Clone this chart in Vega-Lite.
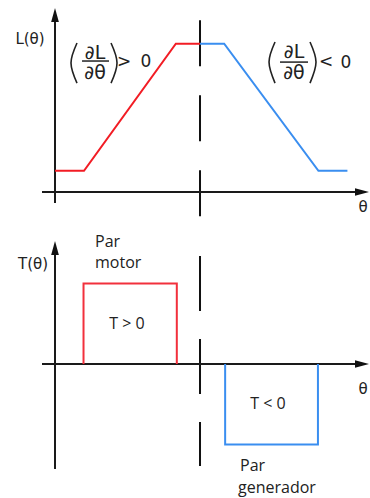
{
  "$schema": "https://vega.github.io/schema/vega-lite/v6.json",
  "padding": 0,
  "spacing": 0,
  "background": "white",
  "config": {"view": {"stroke": null}},
  "resolve": {"scale": {"x": "independent", "y": "independent", "color": "independent", "shape": "independent"}},
  "datasets": {
    "dash_top": [{"theta": 30, "v": 8.11, "v2": -1.7}],
    "axes_top": [
      {"theta": 0, "theta2": 0, "v": -0.52, "v2": 8.35},
      {"theta": -2.69, "theta2": 63.52, "v": 0, "v2": 0}
    ],
    "arrows_top": [
      {"theta": 0, "v": 8.35, "dir": "up"},
      {"theta": 63.52, "v": 0, "dir": "right"}
    ],
    "inductance": [
      {"theta": 0, "v": 1, "side": "motor"},
      {"theta": 6, "v": 1, "side": "motor"},
      {"theta": 25, "v": 7, "side": "motor"},
      {"theta": 30, "v": 7, "side": "motor"},
      {"theta": 30, "v": 7, "side": "generador"},
      {"theta": 35, "v": 7, "side": "generador"},
      {"theta": 54.5, "v": 1, "side": "generador"},
      {"theta": 60.5, "v": 1, "side": "generador"}
    ],
    "frac_bars": [
      {"theta": 5.59, "theta2": 11.17, "v": 6.18},
      {"theta": 46.55, "theta2": 52.35, "v": 6.13}
    ],
    "parens": [
      {"g": "a", "ord": 1, "theta": 4.55, "v": 7.03},
      {"g": "a", "ord": 2, "theta": 3.31, "v": 6.09},
      {"g": "a", "ord": 3, "theta": 4.55, "v": 5.14},
      {"g": "b", "ord": 1, "theta": 11.59, "v": 7.03},
      {"g": "b", "ord": 2, "theta": 12.83, "v": 6.09},
      {"g": "b", "ord": 3, "theta": 11.59, "v": 5.14},
      {"g": "c", "ord": 1, "theta": 45.52, "v": 7.08},
      {"g": "c", "ord": 2, "theta": 44.28, "v": 6.13},
      {"g": "c", "ord": 3, "theta": 45.52, "v": 5.14},
      {"g": "d", "ord": 1, "theta": 52.76, "v": 7.08},
      {"g": "d", "ord": 2, "theta": 54.0, "v": 6.13},
      {"g": "d", "ord": 3, "theta": 52.76, "v": 5.14}
    ],
    "labels_top": [
      {"theta": -5.17, "v": 7.22, "label": "L(θ)"},
      {"theta": 63.73, "v": -0.71, "label": "θ"}
    ],
    "frac_terms": [
      {"theta": 8.28, "v": 6.56, "label": "∂L"},
      {"theta": 8.28, "v": 5.62, "label": "∂θ"},
      {"theta": 49.45, "v": 6.61, "label": "∂L"},
      {"theta": 49.45, "v": 5.62, "label": "∂θ"}
    ],
    "relations": [
      {"theta": 14.28, "v": 6.13, "label": ">"},
      {"theta": 18.83, "v": 6.13, "label": "0"},
      {"theta": 56.07, "v": 6.13, "label": "<"},
      {"theta": 60.21, "v": 6.09, "label": "0"}
    ],
    "dash_bottom": [{"theta": 30, "v": 1.342, "v2": -1.267}],
    "axes_bottom": [
      {"theta": 0, "theta2": 0, "v": -1.304, "v2": 1.441},
      {"theta": -2.69, "theta2": 63.52, "v": 0, "v2": 0}
    ],
    "arrows_bottom": [
      {"theta": 0, "v": 1.441, "dir": "up"},
      {"theta": 63.52, "v": 0, "dir": "right"}
    ],
    "torque": [
      {"ord": 1, "theta": 5.9, "v": 0, "side": "motor"},
      {"ord": 2, "theta": 5.9, "v": 1, "side": "motor"},
      {"ord": 3, "theta": 25.2, "v": 1, "side": "motor"},
      {"ord": 4, "theta": 25.2, "v": 0, "side": "motor"},
      {"ord": 1, "theta": 35.2, "v": 0, "side": "generador"},
      {"ord": 2, "theta": 35.2, "v": -1, "side": "generador"},
      {"ord": 3, "theta": 54.4, "v": -1, "side": "generador"},
      {"ord": 4, "theta": 54.4, "v": 0, "side": "generador"}
    ],
    "labels_bottom": [
      {"theta": -4.55, "v": 1.242, "label": "T(θ)"},
      {"theta": 63.73, "v": -0.311, "label": "θ"}
    ],
    "signs": [
      {"theta": 14.9, "v": 0.497, "label": "T > 0"},
      {"theta": 44.07, "v": -0.497, "label": "T < 0"}
    ],
    "captions": [
      {"theta": 8.28, "v": 1.516, "label": "Par"},
      {"theta": 8.28, "v": 1.255, "label": "motor"},
      {"theta": 38.28, "v": -1.267, "label": "Par"},
      {"theta": 37.87, "v": -1.54, "label": "generador"}
    ]
  },
  "vconcat": [
    {
      "width": 370,
      "height": 228,
      "encoding": {
        "x": {"field": "theta", "type": "quantitative", "axis": null,
              "scale": {"domain": [-11.38, 65.17], "nice": false, "zero": false}},
        "y": {"field": "v", "type": "quantitative", "axis": null,
              "scale": {"domain": [-1.7, 9.06], "nice": false, "zero": false}}
      },
      "layer": [
        {"data": {"name": "dash_top"},
         "mark": {"type": "rule", "color": "#111", "strokeWidth": 2, "strokeDash": [46, 29]},
         "encoding": {"y2": {"field": "v2"}}},
        {"data": {"name": "axes_top"},
         "mark": {"type": "rule", "color": "#1a1a1a", "strokeWidth": 2},
         "encoding": {"x2": {"field": "theta2"}, "y2": {"field": "v2"}}},
        {"data": {"name": "arrows_top"},
         "mark": {"type": "point", "filled": true, "color": "#111", "size": 196, "opacity": 1, "strokeWidth": 0},
         "encoding": {"shape": {"field": "dir", "type": "nominal", "legend": null,
           "scale": {"domain": ["up", "right"], "range": ["M0,-1L0.55,1L-0.55,1Z", "M1,0L-1,0.55L-1,-0.55Z"]}}}},
        {"data": {"name": "inductance"},
         "mark": {"type": "line", "strokeWidth": 2},
         "encoding": {"color": {"field": "side", "type": "nominal", "legend": null,
           "scale": {"domain": ["motor", "generador"], "range": ["#f21c24", "#3a8ef0"]}}}},
        {"data": {"name": "frac_bars"},
         "mark": {"type": "rule", "color": "#222", "strokeWidth": 1.5},
         "encoding": {"x2": {"field": "theta2"}}},
        {"data": {"name": "parens"},
         "mark": {"type": "line", "color": "#222", "strokeWidth": 1.6, "interpolate": "natural"},
         "encoding": {"detail": {"field": "g"}, "order": {"field": "ord", "type": "quantitative"}}},
        {"data": {"name": "labels_top"},
         "mark": {"type": "text", "font": "DejaVu Sans", "fontSize": 15, "color": "#222", "align": "center", "baseline": "middle"},
         "encoding": {"text": {"field": "label"}}},
        {"data": {"name": "frac_terms"},
         "mark": {"type": "text", "font": "DejaVu Sans", "fontSize": 19, "color": "#222", "align": "center", "baseline": "middle"},
         "encoding": {"text": {"field": "label"}}},
        {"data": {"name": "relations"},
         "mark": {"type": "text", "font": "DejaVu Sans", "fontSize": 17, "color": "#222", "align": "center", "baseline": "middle"},
         "encoding": {"text": {"field": "label"}}}
      ]
    },
    {
      "width": 370,
      "height": 270,
      "encoding": {
        "x": {"field": "theta", "type": "quantitative", "axis": null,
              "scale": {"domain": [-11.38, 65.17], "nice": false, "zero": false}},
        "y": {"field": "v", "type": "quantitative", "axis": null,
              "scale": {"domain": [-1.677, 1.677], "nice": false, "zero": false}}
      },
      "layer": [
        {"data": {"name": "dash_bottom"},
         "mark": {"type": "rule", "color": "#111", "strokeWidth": 2, "strokeDash": [55, 28]},
         "encoding": {"y2": {"field": "v2"}}},
        {"data": {"name": "axes_bottom"},
         "mark": {"type": "rule", "color": "#1a1a1a", "strokeWidth": 2},
         "encoding": {"x2": {"field": "theta2"}, "y2": {"field": "v2"}}},
        {"data": {"name": "arrows_bottom"},
         "mark": {"type": "point", "filled": true, "color": "#111", "size": 196, "opacity": 1, "strokeWidth": 0},
         "encoding": {"shape": {"field": "dir", "type": "nominal", "legend": null,
           "scale": {"domain": ["up", "right"], "range": ["M0,-1L0.55,1L-0.55,1Z", "M1,0L-1,0.55L-1,-0.55Z"]}}}},
        {"data": {"name": "torque"},
         "mark": {"type": "line", "strokeWidth": 2},
         "encoding": {"color": {"field": "side", "type": "nominal", "legend": null,
           "scale": {"domain": ["motor", "generador"], "range": ["#f2303c", "#3a8ef0"]}},
           "order": {"field": "ord", "type": "quantitative"}}},
        {"data": {"name": "labels_bottom"},
         "mark": {"type": "text", "font": "DejaVu Sans", "fontSize": 15, "color": "#222", "align": "center", "baseline": "middle"},
         "encoding": {"text": {"field": "label"}}},
        {"data": {"name": "signs"},
         "mark": {"type": "text", "font": "Open Sans", "fontSize": 16, "color": "#222", "align": "center", "baseline": "middle"},
         "encoding": {"text": {"field": "label"}}},
        {"data": {"name": "captions"},
         "mark": {"type": "text", "font": "Open Sans", "fontSize": 16, "color": "#222", "align": "left", "baseline": "middle"},
         "encoding": {"text": {"field": "label"}}}
      ]
    }
  ]
}
